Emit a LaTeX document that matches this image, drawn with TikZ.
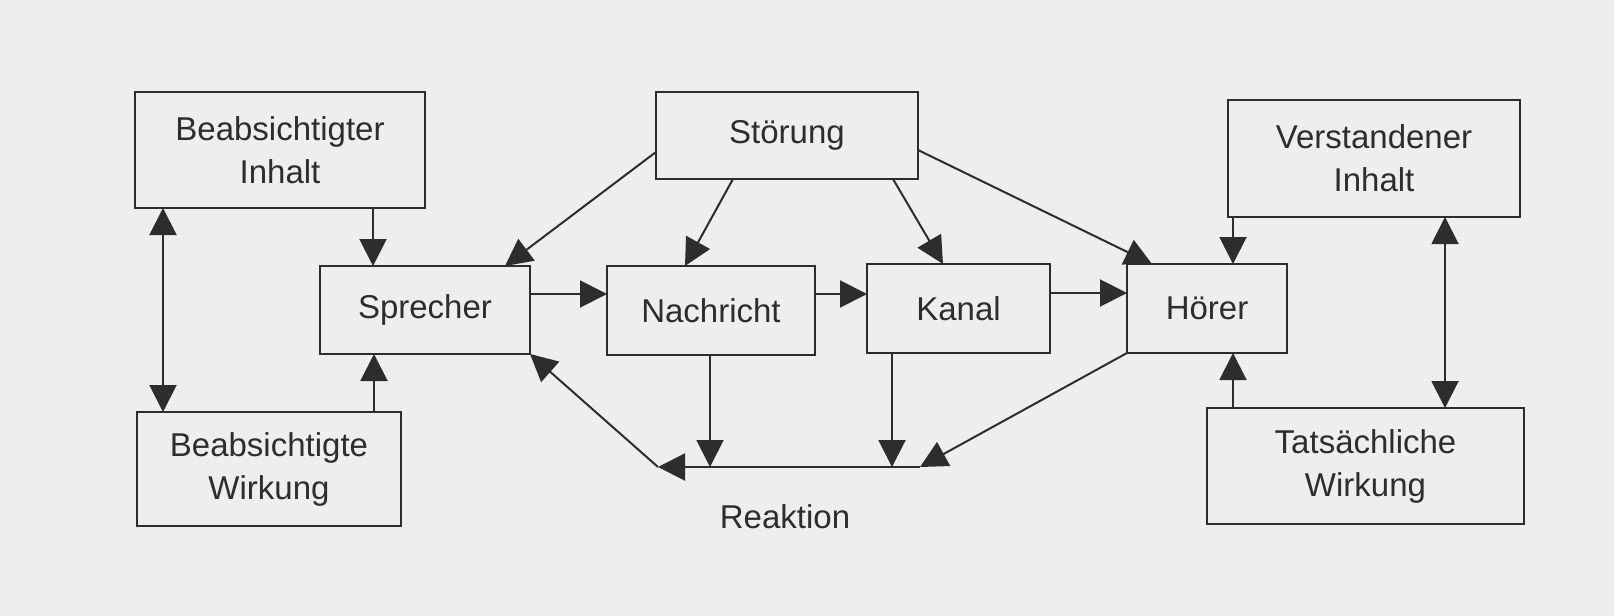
\documentclass[tikz,border=0pt]{standalone}
\usepackage{fontspec}
\setmainfont{Liberation Sans}
\usetikzlibrary{arrows.meta}
\definecolor{bg}{RGB}{238,238,238}
\definecolor{ink}{RGB}{45,45,45}
\begin{document}
\begin{tikzpicture}[x=0.5pt,y=-0.5pt,
  box/.style={draw=ink,line width=1pt,inner sep=0pt,outer sep=0pt,align=center,
    text=ink,font=\fontsize{16.5}{21.5}\selectfont},
  lbl/.style={text=ink,font=\fontsize{16.5}{21.5}\selectfont},
  arr/.style={draw=ink,line width=1pt,-{Triangle[length=13.5pt,width=13.5pt]}},
  dbl/.style={draw=ink,line width=1pt,{Triangle[length=13.5pt,width=13.5pt]}-{Triangle[length=13.5pt,width=13.5pt]}}]
\fill[bg] (0,0) rectangle (1614,616);
\useasboundingbox (0,0) rectangle (1614,616);

% boxes
\node[box,minimum width=145pt,minimum height=58pt] (BI) at (280,150) {Beabsichtigter\\Inhalt};
\node[box,minimum width=132pt,minimum height=57pt] (BW) at (269,469) {Beabsichtigte\\Wirkung};
\node[box,minimum width=105pt,minimum height=44pt] (Sp) at (425,310) {Sprecher};
\node[box,minimum width=131pt,minimum height=43.5pt] (St) at (787,135.5) {Störung};
\node[box,minimum width=104pt,minimum height=44.5pt] (Na) at (711,310.5) {Nachricht};
\node[box,minimum width=91.5pt,minimum height=44.5pt] (Ka) at (958.5,308.5) {Kanal};
\node[box,minimum width=80pt,minimum height=44.5pt] (Ho) at (1207,308.5) {Hörer};
\node[box,minimum width=146pt,minimum height=58.5pt] (VI) at (1374,158.5) {Verstandener\\Inhalt};
\node[box,minimum width=158.5pt,minimum height=58pt] (TW) at (1365.5,466) {Tatsächliche\\Wirkung};
\node[lbl] (Re) at (785,517) {Reaktion};

\coordinate (rR) at (920,467);
\coordinate (rL) at (658,467);

% left side
\draw[dbl] ([xshift=14pt]BI.south west) -- ([xshift=14pt]BI.south west |- BW.north);
\draw[arr] ([xshift=26.5pt]Sp.north west |- BI.south) -- ([xshift=26.5pt]Sp.north west);
\draw[arr] ([xshift=27pt]Sp.south west |- BW.north) -- ([xshift=27pt]Sp.south west);

% main chain
\draw[arr] ([yshift=-14pt]Sp.north east) -- ([yshift=-14pt]Sp.north east -| Na.west);
\draw[arr] ([yshift=-14pt]Na.north east) -- ([yshift=-14pt]Na.north east -| Ka.west);
\draw[arr] ([yshift=-14.5pt]Ka.north east) -- ([yshift=-14.5pt]Ka.north east -| Ho.west);

% Störung
\draw[arr] ([yshift=-8.25pt]St.west) -- ([xshift=-12.5pt]Sp.north east);
\draw[arr] ([xshift=38.5pt]St.south west) -- ([xshift=39pt]Na.north west);
\draw[arr] ([xshift=-12.5pt]St.south east) -- ([xshift=38pt]Ka.north west);
\draw[arr] ([yshift=-7.25pt]St.east) -- ([xshift=12.5pt]Ho.north west);

% reaction
\draw[arr] ([xshift=51.5pt]Na.south west) -- ([xshift=51.5pt]Na.south west |- rL);
\draw[arr] ([xshift=12.5pt]Ka.south west) -- ([xshift=12.5pt]Ka.south west |- rL);
\draw[arr] (Ho.south west) -- (rR);
\draw[arr] (rR) -- (rL);
\draw[arr] (rL) -- (Sp.south east);

% right side
\draw[arr] ([xshift=53pt]Ho.north west |- VI.south) -- ([xshift=53pt]Ho.north west);
\draw[arr] ([xshift=53pt]Ho.south west |- TW.north) -- ([xshift=53pt]Ho.south west);
\draw[dbl] ([xshift=108.5pt]VI.south west) -- ([xshift=108.5pt]VI.south west |- TW.north);
\end{tikzpicture}
\end{document}
